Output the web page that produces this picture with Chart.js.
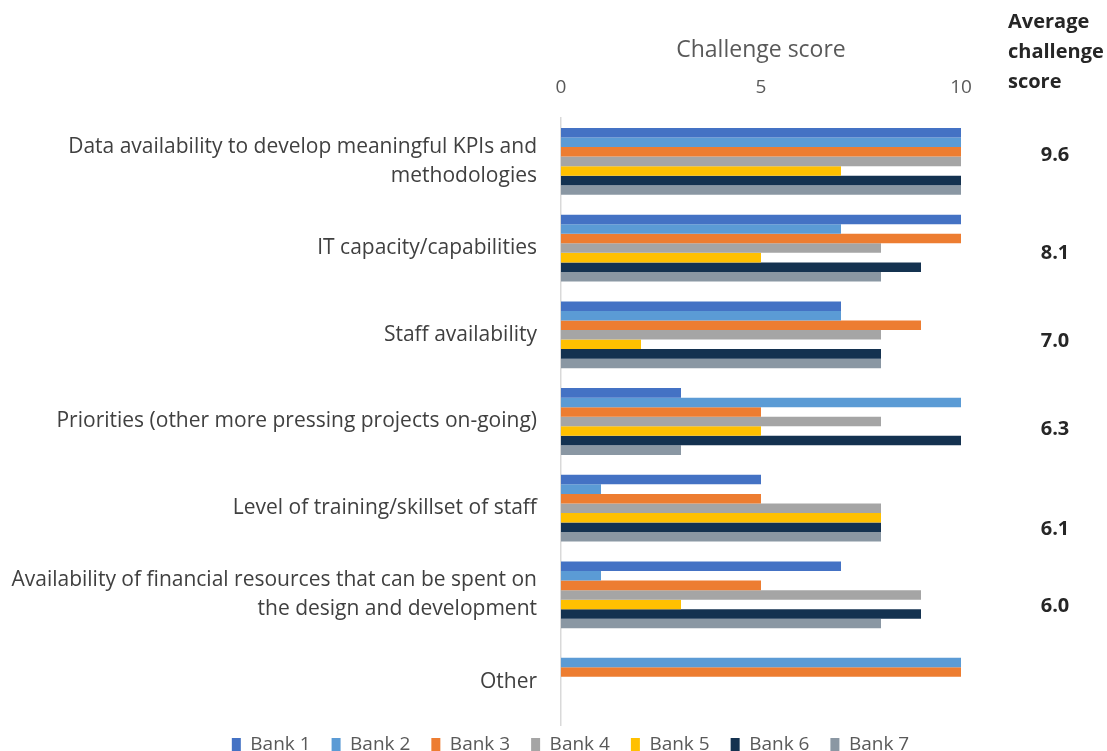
<!DOCTYPE html>
<html lang="en">
<head>
  <meta charset="UTF-8">
  <title>Challenge score by bank</title>
  <style>
    body {
      margin: 0;
      padding: 0;
      background: #ffffff;
    }
    canvas {
      display: block;
    }
  </style>
</head>
<body>
  <canvas id="challengeChart" width="1107" height="751"></canvas>

  <script src="https://cdn.jsdelivr.net/npm/chart.js"></script>
  <script>
    const categories = [
      ['Data availability to develop meaningful KPIs and', 'methodologies'],
      'IT capacity/capabilities',
      'Staff availability',
      'Priorities (other more pressing projects on-going)',
      'Level of training/skillset of staff',
      ['Availability of financial resources that can be spent on', 'the design and development'],
      'Other'
    ];

    const bankNames = ['Bank 1', 'Bank 2', 'Bank 3', 'Bank 4', 'Bank 5', 'Bank 6', 'Bank 7'];

    const bank1 = [10, 10, 7, 3, 5, 7, null];
    const bank2 = [10, 7, 7, 10, 1, 1, 10];
    const bank3 = [10, 10, 9, 5, 5, 5, 10];
    const bank4 = [10, 8, 8, 8, 8, 9, null];
    const bank5 = [7, 5, 2, 5, 8, 3, null];
    const bank6 = [10, 9, 8, 10, 8, 9, null];
    const bank7 = [10, 8, 8, 3, 8, 8, null];

    const averageScores = ['9.6', '8.1', '7.0', '6.3', '6.1', '6.0', ''];

    const xTicks = [0, 5, 10];

    const bankColors = ['#4472C4', '#5B9BD5', '#ED7D31', '#A5A5A5', '#FFC000', '#143250', '#8A97A3'];
    const series = [bank1, bank2, bank3, bank4, bank5, bank6, bank7];

    const fontFamily = '"Open Sans", Lato, sans-serif';

    // averages column on the right, drawn next to each category
    const averageColumn = {
      id: 'averageColumn',
      afterDraw(chart, args, opts) {
        const c = chart.ctx;
        const y = chart.scales.y;
        c.save();
        c.fillStyle = '#262626';
        c.font = 'bold 20px ' + fontFamily;
        c.textAlign = 'left';
        c.textBaseline = 'middle';
        ['Average', 'challenge', 'score'].forEach((t, i) => c.fillText(t, 1008, 22 + i * 30));
        c.textAlign = 'center';
        averageScores.forEach((v, i) => {
          if (!v) return;
          c.fillText(v, 1055, y.getPixelForValue(i) + opts.nudge[i]);
        });
        c.restore();
      }
    };

    // legend is capped in height, then slid up under the bars and right, like the original
    const legendNudge = {
      id: 'legendNudge',
      afterLayout(chart, args, opts) {
        const lg = chart.legend;
        lg.top -= opts.up;
        lg.left += opts.shift;
        lg.right += opts.shift;
      }
    };

    new Chart(document.getElementById('challengeChart'), {
      type: 'bar',
      data: {
        labels: categories,
        datasets: bankNames.map((name, i) => ({
          label: name,
          data: series[i],
          backgroundColor: bankColors[i],
          borderWidth: 0,
          categoryPercentage: 0.77,
          barPercentage: 1.0
        }))
      },
      options: {
        indexAxis: 'y',
        responsive: false,
        animation: false,
        layout: {
          padding: { left: 6, right: 146, top: 0, bottom: 0 }
        },
        scales: {
          x: {
            position: 'top',
            min: 0,
            max: 10,
            afterBuildTicks(scale) {
              scale.ticks = xTicks.map(v => ({ value: v }));
            },
            afterFit(scale) {
              scale.height = 118;
            },
            grid: { display: false, drawTicks: false },
            border: { display: false },
            ticks: {
              padding: 19,
              color: '#595959',
              font: { family: fontFamily, size: 19 }
            },
            title: {
              display: true,
              text: 'Challenge score',
              color: '#595959',
              padding: { top: 37, bottom: 0 },
              font: { family: fontFamily, size: 23 }
            }
          },
          y: {
            afterFit(scale) {
              scale.width = 555;
              scale.paddingTop = 0;
              scale.paddingBottom = 0;
            },
            grid: { display: false, drawTicks: false },
            border: { display: true, color: '#D9D9D9', width: 1.5 },
            ticks: {
              padding: 24,
              color: '#404040',
              font: { family: fontFamily, size: 21, lineHeight: 1.38 }
            }
          }
        },
        plugins: {
          legend: {
            position: 'bottom',
            maxHeight: 26,
            labels: {
              boxWidth: 9,
              boxHeight: 13,
              padding: 21,
              color: '#595959',
              font: { family: fontFamily, size: 19 }
            }
          },
          tooltip: { enabled: false },
          averageColumn: {
            nudge: [-6, 5, 7, 8, 21, 11, 0]
          },
          legendNudge: { up: 11, shift: 87 }
        }
      },
      plugins: [averageColumn, legendNudge]
    });
  </script>
</body>
</html>
